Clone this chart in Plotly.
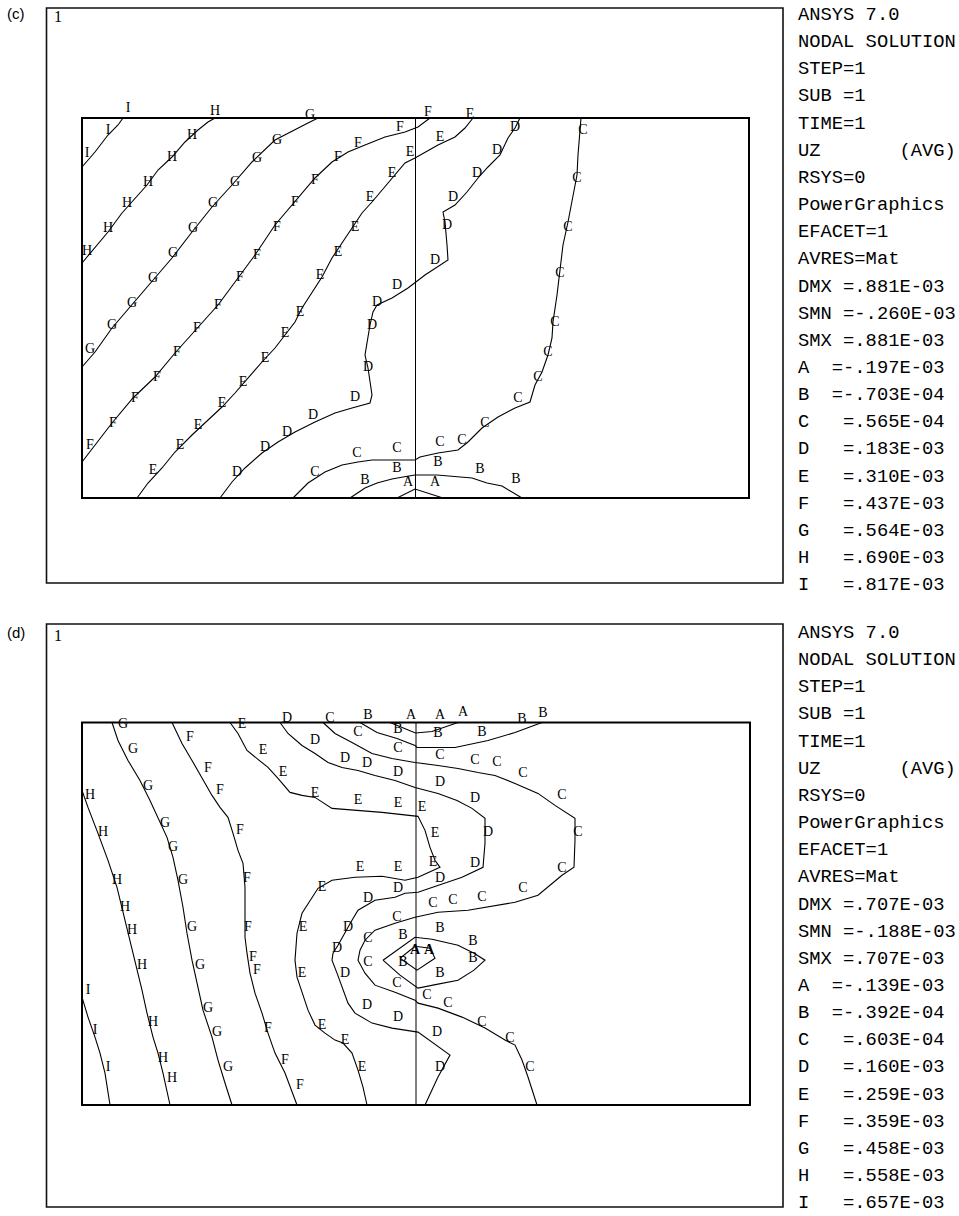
import plotly.graph_objects as go

# ---------------- panel (c) : contour lines (model units, origin lower-left of plate) -------------
C_WIDTH, C_HEIGHT, C_MID = 667, 380, 333.5
c_I = [(0, 331), (13, 346), (26, 363), (36, 373), (41, 380)]
c_I_lab = [(5, 345), (26, 368), (46, 390)]
c_H = [(0, 235), (13, 250), (26, 266), (40, 285), (53, 300), (65, 313), (76, 328), (90, 341),
       (103, 356), (116, 368), (126, 376), (133, 380)]
c_H_lab = [(5, 247), (26, 270), (45, 295), (66, 316), (90, 341), (110, 363), (133, 387)]
c_G = [(0, 131), (13, 146), (30, 170), (50, 193), (70, 216), (90, 240), (110, 266), (130, 291),
       (150, 313), (170, 336), (193, 358), (206, 365), (226, 375), (236, 380)]
c_G_lab = [(8, 149), (30, 173), (50, 195), (71, 220), (91, 245), (111, 270), (131, 295), (153, 316),
           (175, 340), (195, 358), (228, 383)]
c_F = [(0, 36), (13, 53), (30, 75), (51, 100), (73, 121), (93, 145), (115, 170), (136, 193),
       (156, 220), (173, 243), (193, 273), (213, 296), (233, 320), (250, 336), (266, 346),
       (283, 353), (303, 361), (323, 366), (336, 371), (348, 380)]
c_F_lab = [(8, 53), (31, 75), (53, 100), (75, 121), (95, 146), (115, 170), (136, 193), (158, 221),
           (175, 243), (195, 271), (213, 296), (233, 318), (256, 341), (276, 355), (318, 371),
           (346, 386)]
c_E = [(55, 0), (66, 15), (80, 30), (93, 46), (110, 63), (126, 78), (140, 91), (153, 105),
       (166, 120), (180, 136), (193, 150), (203, 163), (213, 176), (220, 190), (230, 206),
       (240, 221), (250, 240), (260, 255), (270, 270), (280, 285), (290, 296), (303, 311),
       (313, 323), (323, 335), (333, 340), (356, 353), (373, 361), (383, 370), (391, 380)]
c_E_lab = [(71, 28), (98, 53), (116, 73), (140, 95), (161, 116), (183, 140), (203, 165),
           (218, 186), (238, 223), (256, 246), (273, 271), (288, 301), (310, 325), (328, 346),
           (358, 361), (388, 384)]
c_D = [(138, 0), (150, 16), (163, 30), (180, 45), (196, 56), (213, 66), (233, 76), (253, 85),
       (270, 90), (288, 95), (290, 103), (288, 116), (286, 130), (283, 143), (285, 156),
       (288, 173), (291, 186), (295, 193), (310, 200), (326, 210), (343, 223), (366, 238),
       (365, 253), (363, 276), (361, 286), (373, 293), (385, 306), (396, 320), (406, 331),
       (418, 343), (426, 360), (433, 370), (438, 380)]
c_D_lab = [(155, 26), (183, 51), (205, 66), (231, 83), (273, 101), (286, 131), (290, 173),
           (295, 196), (315, 213), (353, 238), (365, 273), (371, 301), (395, 325), (415, 348),
           (433, 371)]
c_C = [(211, 0), (226, 15), (243, 26), (260, 33), (276, 36), (290, 38), (333, 38), (338, 41),
       (356, 45), (376, 48), (386, 56), (400, 70), (416, 81), (433, 90), (448, 96), (453, 113),
       (460, 126), (466, 143), (470, 160), (471, 176), (475, 203), (478, 226), (481, 253),
       (486, 276), (491, 303), (495, 323), (496, 343), (498, 370), (499, 380)]
c_C_lab = [(233, 26), (275, 45), (315, 50), (358, 56), (380, 58), (403, 75), (436, 100),
           (456, 121), (466, 146), (473, 176), (478, 225), (486, 271), (495, 320), (501, 368)]
c_B = [(268, 0), (283, 10), (295, 15), (310, 19), (321, 21), (333, 23), (355, 23), (378, 21),
       (390, 20), (405, 15), (420, 12), (440, 0)]
c_B_lab = [(283, 18), (315, 30), (356, 36), (398, 29), (434, 19)]
c_A = [(315, 0), (333, 9), (361, 0)]
c_A_lab = [(326, 16), (353, 16)]

# ---------------- panel (d) ----------------
D_WIDTH, D_HEIGHT, D_MID = 668, 383, 334
d_I = [(0, 108), (6, 88), (13, 68), (18, 52), (23, 32), (28, 0)]
d_I_lab = [(6, 115), (13, 75), (26, 38)]
d_H = [(0, 315), (6, 298), (16, 272), (26, 245), (35, 218), (40, 198), (45, 178), (50, 158),
       (55, 138), (60, 115), (65, 92), (71, 68), (76, 52), (81, 32), (88, 0)]
d_H_lab = [(8, 310), (21, 273), (35, 225), (43, 198), (50, 175), (60, 140), (71, 83), (81, 47),
           (90, 27)]
d_G = [(30, 383), (36, 365), (46, 345), (58, 325), (68, 305), (76, 288), (85, 268), (91, 248),
       (96, 225), (101, 198), (105, 172), (110, 145), (116, 118), (121, 95), (130, 68),
       (136, 45), (143, 22), (150, 0)]
d_G_lab = [(41, 381), (51, 356), (66, 319), (83, 282), (91, 258), (101, 225), (110, 178),
           (118, 140), (126, 97), (135, 73), (146, 38)]
d_F = [(90, 383), (100, 362), (110, 345), (120, 328), (130, 310), (138, 298), (146, 288),
       (151, 272), (156, 255), (161, 242), (163, 218), (163, 192), (163, 168), (165, 152),
       (168, 132), (173, 112), (180, 92), (186, 72), (193, 52), (203, 32), (215, 0)]
d_F_lab = [(108, 368), (126, 337), (138, 315), (158, 275), (165, 227), (166, 178), (171, 148),
           (175, 135), (186, 77), (203, 45), (218, 20)]
d_E = [(148, 383), (156, 372), (165, 355), (175, 347), (186, 338), (196, 327), (208, 313),
       (220, 310), (233, 308), (250, 297), (273, 295), (300, 293), (336, 289), (343, 275),
       (348, 258), (353, 245), (358, 238), (336, 228), (323, 225), (300, 229), (273, 228),
       (250, 225), (236, 217), (226, 202), (220, 192), (215, 172), (213, 145), (215, 128),
       (220, 112), (226, 95), (233, 80), (243, 72), (253, 65), (261, 62), (270, 52), (276, 35),
       (281, 18), (285, 0)]
d_E_lab = [(160, 381), (181, 355), (201, 333), (233, 312), (276, 305), (316, 302), (340, 298),
           (353, 272), (351, 243), (316, 238), (278, 238), (240, 218), (221, 178), (220, 132),
           (240, 80), (263, 65), (280, 38)]
d_D = [(198, 383), (206, 372), (220, 360), (233, 352), (246, 343), (260, 338), (276, 335),
       (293, 330), (313, 325), (333, 318), (356, 312), (375, 305), (390, 297), (403, 287),
       (403, 262), (401, 238), (380, 228), (356, 220), (336, 213), (323, 212), (313, 208),
       (293, 205), (276, 195), (270, 185), (263, 172), (256, 160), (251, 152), (250, 145),
       (255, 132), (260, 118), (266, 102), (273, 92), (290, 82), (310, 77), (333, 73),
       (336, 73), (368, 50), (356, 28), (343, 0)]
d_D_lab = [(205, 387), (233, 365), (263, 347), (285, 342), (316, 333), (358, 323), (393, 307),
           (406, 273), (393, 242), (358, 227), (316, 217), (286, 207), (266, 178), (255, 157),
           (263, 132), (285, 100), (316, 88), (355, 73), (358, 38)]
d_C = [(241, 383), (253, 372), (270, 363), (290, 352), (310, 347), (333, 343), (356, 340),
       (376, 337), (396, 333), (413, 330), (433, 322), (456, 312), (473, 300), (493, 287),
       (493, 265), (492, 238), (480, 230), (456, 210), (433, 203), (406, 198), (386, 195),
       (356, 193), (340, 190), (333, 188), (313, 182), (293, 175), (283, 165), (278, 155),
       (276, 145), (283, 132), (293, 120), (313, 113), (333, 105), (336, 102), (356, 97),
       (380, 88), (403, 77), (423, 65), (433, 60), (440, 45), (446, 28), (455, 0)]
d_C_lab = [(248, 387), (276, 373), (316, 357), (358, 350), (393, 345), (415, 343), (441, 332),
           (480, 310), (496, 273), (480, 237), (441, 217), (400, 208), (371, 205), (351, 202),
           (315, 188), (286, 167), (286, 143), (315, 122), (345, 110), (366, 102), (400, 83),
           (428, 67), (448, 38)]
d_B = [(278, 383), (295, 373), (315, 367), (333, 360), (335, 358), (373, 358), (406, 365),
       (433, 373), (460, 383)]
d_B_lab = [(286, 390), (316, 376), (356, 372), (400, 373), (440, 386), (461, 392)]
d_B_loop = [(301, 145), (318, 157), (333, 168), (350, 166), (376, 160), (392, 152), (403, 145),
            (392, 135), (376, 125), (356, 121), (336, 117), (318, 130), (301, 145)]
d_B_inner = [(318, 147), (333, 159), (348, 157), (353, 147), (335, 135), (318, 147)]
d_B_loop_lab = [(321, 170), (358, 177), (391, 164), (391, 147), (321, 143), (358, 132)]
d_A = [(308, 383), (333.5, 372.5), (350, 374), (376, 383)]
d_A_lab = [(329, 390), (358, 390), (381, 393)]
d_A_min_lab = [(333, 155), (347, 155)]

# ---------------- legend texts ----------------
HEADER = ["ANSYS 7.0", "NODAL SOLUTION", "STEP=1", "SUB =1", "TIME=1", "UZ       (AVG)",
          "RSYS=0", "PowerGraphics", "EFACET=1", "AVRES=Mat"]
LEVELS = ["A", "B", "C", "D", "E", "F", "G", "H", "I"]
c_stats = ["DMX =.881E-03", "SMN =-.260E-03", "SMX =.881E-03"]
c_values = ["-.197E-03", "-.703E-04", ".565E-04", ".183E-03", ".310E-03", ".437E-03",
            ".564E-03", ".690E-03", ".817E-03"]
d_stats = ["DMX =.707E-03", "SMN =-.188E-03", "SMX =.707E-03"]
d_values = ["-.139E-03", "-.392E-04", ".603E-04", ".160E-03", ".259E-03", ".359E-03",
            ".458E-03", ".558E-03", ".657E-03"]

W, H = 959, 1216
PAD = 12  # model units of blank space kept round each plate so edge labels stay visible
LINE = dict(color="black", width=1.1)
LABEL_FONT = dict(family="Liberation Serif", size=14, color="black")

c_lines = [("I", c_I, c_I_lab), ("H", c_H, c_H_lab), ("G", c_G, c_G_lab), ("F", c_F, c_F_lab),
           ("E", c_E, c_E_lab), ("D", c_D, c_D_lab), ("C", c_C, c_C_lab), ("B", c_B, c_B_lab),
           ("A", c_A, c_A_lab)]
d_lines = [("I", d_I, d_I_lab), ("H", d_H, d_H_lab), ("G", d_G, d_G_lab), ("F", d_F, d_F_lab),
           ("E", d_E, d_E_lab), ("D", d_D, d_D_lab), ("C", d_C, d_C_lab), ("B", d_B, d_B_lab),
           ("B", d_B_loop, d_B_loop_lab), ("B", d_B_inner, []), ("A", d_A, d_A_lab)]

fig = go.Figure()


def add_panel(lines, mid, width, height, xa, ya):
    xref, yref = xa, ya
    fig.add_shape(type="rect", xref=xref, yref=yref, x0=0, x1=width, y0=0, y1=height,
                  line=dict(color="black", width=2), layer="above")
    fig.add_trace(go.Scatter(x=[mid, mid], y=[0, height], mode="lines", line=dict(color="black", width=1),
                             xaxis=xa, yaxis=ya, hoverinfo="skip", showlegend=False))
    for letter, pts, labs in lines:
        fig.add_trace(go.Scatter(x=[p[0] for p in pts], y=[p[1] for p in pts], mode="lines",
                                 line=LINE, xaxis=xa, yaxis=ya, showlegend=False,
                                 name=letter, hoverinfo="name"))
        if labs:
            fig.add_trace(go.Scatter(x=[p[0] for p in labs], y=[p[1] for p in labs], mode="text",
                                     text=[letter] * len(labs), textfont=LABEL_FONT,
                                     cliponaxis=False, xaxis=xa, yaxis=ya, showlegend=False,
                                     hoverinfo="skip"))


add_panel(c_lines, C_MID, C_WIDTH, C_HEIGHT, "x", "y")
add_panel(d_lines, D_MID, D_WIDTH, D_HEIGHT, "x2", "y2")
fig.add_trace(go.Scatter(x=[p[0] for p in d_A_min_lab], y=[p[1] for p in d_A_min_lab], mode="text",
                         text=["<b>A</b>"] * len(d_A_min_lab), textfont=LABEL_FONT, cliponaxis=False,
                         xaxis="x2", yaxis="y2", showlegend=False, hoverinfo="skip"))

axis_common = dict(visible=False, showgrid=False, zeroline=False, fixedrange=True)
# plate (c): 82..749 px across, 118..498 px down ; plate (d): 82..750 px, 722.5..1105 px
cy_scale = (498 - 118) / C_HEIGHT
dy_scale = (1105 - 722.5) / D_HEIGHT
fig.update_layout(
    width=W, height=H, margin=dict(l=0, r=0, t=0, b=0),
    paper_bgcolor="white", plot_bgcolor="white", showlegend=False,
    xaxis=dict(domain=[(82 - PAD) / W, (749 + PAD) / W], range=[-PAD, C_WIDTH + PAD], anchor="y", **axis_common),
    yaxis=dict(domain=[1 - (498 + PAD * cy_scale) / H, 1 - (118 - PAD * cy_scale) / H],
               range=[-PAD, C_HEIGHT + PAD], anchor="x", **axis_common),
    xaxis2=dict(domain=[(82 - PAD) / W, (750 + PAD) / W], range=[-PAD, D_WIDTH + PAD], anchor="y2", **axis_common),
    yaxis2=dict(domain=[1 - (1105 + PAD * dy_scale) / H, 1 - (722.5 - PAD * dy_scale) / H],
                range=[-PAD, D_HEIGHT + PAD], anchor="x2", **axis_common),
)

# outer frames
for top, bot in [(8, 583), (624, 1207)]:
    fig.add_shape(type="rect", xref="paper", yref="paper", x0=46.5 / W, x1=783 / W,
                  y0=1 - bot / H, y1=1 - top / H, line=dict(color="#111", width=1.6))

MONO = dict(family="Liberation Mono", size=18.8, color="black")
NB = "\u00a0"


def legend_block(top, stats, values, tag):
    lines = HEADER + stats
    for L, v in zip(LEVELS, values):
        pad = 2 if v.startswith("-") else 3
        lines.append(L + NB * pad + "=" + v)
    for i, t in enumerate(lines):
        fig.add_annotation(x=796 / W, y=1 - (top + i * 27.15) / H, xref="paper", yref="paper",
                           text=t.replace(" ", NB), showarrow=False, xanchor="left", yanchor="middle",
                           font=MONO)
    fig.add_annotation(x=27 / W, y=1 - (top - 1) / H, xref="paper", yref="paper", text=tag,
                       showarrow=False, xanchor="right", yanchor="middle",
                       font=dict(family="Liberation Sans", size=15, color="black"))
    fig.add_annotation(x=52 / W, y=1 - (top + 2) / H, xref="paper", yref="paper", text="1",
                       showarrow=False, xanchor="left", yanchor="middle",
                       font=dict(family="Liberation Serif", size=16, color="black"))


legend_block(15, c_stats, c_values, "(c)")
legend_block(633, d_stats, d_values, "(d)")

fig.write_html("out.html", config={"displayModeBar": False},
               post_script="document.body.style.margin='0';document.body.style.overflow='hidden';")
